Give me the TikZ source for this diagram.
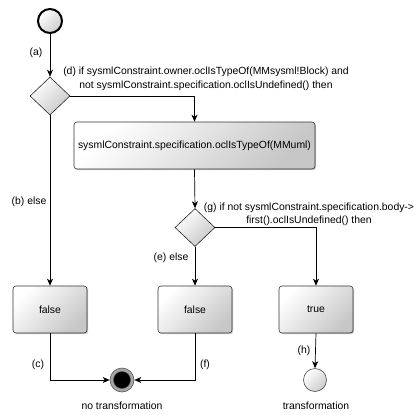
\documentclass[tikz,border=0pt]{standalone}
\usepackage{fontspec}
\setmainfont{Liberation Sans}
\usetikzlibrary{shapes.geometric,arrows.meta,shadows}
\begin{document}
\begin{tikzpicture}[x=1pt,y=-1pt,
  font=\fontsize{10.4}{13.5}\selectfont,
  every node/.style={inner sep=0pt},
  act/.style={draw=black!80, rounded corners=3pt, line width=0.6pt,
    top color=white, bottom color=black!22, shading angle=45,
    drop shadow={shadow xshift=1.2pt, shadow yshift=-1.2pt, opacity=0.35, fill=black!60},
    minimum height=47pt},
  dec/.style={diamond, draw=black!85, line width=0.6pt,
    top color=white, bottom color=black!22, shading angle=45,
    minimum width=40pt, minimum height=38pt},
  flow/.style={line width=0.7pt, -{Stealth[length=7pt,width=6pt,inset=2pt]}},
  lbl/.style={font=\fontsize{10.4}{13.5}\selectfont}
]
\useasboundingbox (0,0) rectangle (414,415);

% nodes
\node[circle, draw=black, line width=2pt, minimum size=24pt,
  top color=white, bottom color=black!20, shading angle=45] (start) at (50,21) {};
\node[dec] (d1) at (50,96) {};
\node[act, minimum width=241pt] (b1) at (194.5,145.5) {sysmlConstraint.specification.oclIsTypeOf(MMuml)};
\node[dec] (d2) at (195,227.5) {};
\node[act, minimum width=74pt] (f1) at (50,309.5) {false};
\node[act, minimum width=74pt] (f2) at (195,309.5) {false};
\node[act, minimum width=74pt] (t) at (316,309.5) {true};
\node[circle, fill=black!35, draw=black!65, line width=0.6pt, minimum size=24pt] (fin) at (122,380) {};
\node[circle, fill=black, draw=black!70, line width=0.4pt, minimum size=17pt] (finin) at (122,380) {};
\node[circle, draw=black!70, line width=0.6pt, minimum size=23pt,
  top color=white, bottom color=black!20, shading angle=45] (end) at (315,380) {};

% edges
\draw[flow] (start) -- (d1.north);
\draw[flow] (d1.east) -| (b1.north);
\draw[flow] (b1.south) -- (d2.north);
\draw[flow] (d1.south) -- (f1.north);
\draw[flow] (d2.south) -- (f2.north);
\draw[flow] (d2.east) -| (t.north);
\draw[flow] (f1.south) |- (fin.west);
\draw[flow] (f2.south) |- (fin.east);
\draw[flow] (t.south) -- (end.north);

% labels
\node[lbl] (la) at (36,53) {(a)};
\node[lbl, align=center] (ld) at (206,79) {(d) if sysmlConstraint.owner.oclIsTypeOf(MMsysml!Block) and\\not sysmlConstraint.specification.oclIsUndefined() then};
\node[lbl] (lb) at (29,202) {(b) else};
\node[lbl, align=center] (lg) at (309,214.5) {(g) if not sysmlConstraint.specification.body->\\first().oclIsUndefined() then};
\node[lbl] (le) at (171,258) {(e) else};
\node[lbl] (lc) at (38,365) {(c)};
\node[lbl] (lf) at (205,365) {(f)};
\node[lbl] (lh) at (304,351) {(h)};
\node[lbl] (lno) at (122,406) {no transformation};
\node[lbl] (ltr) at (316,406) {transformation};
\end{tikzpicture}
\end{document}
